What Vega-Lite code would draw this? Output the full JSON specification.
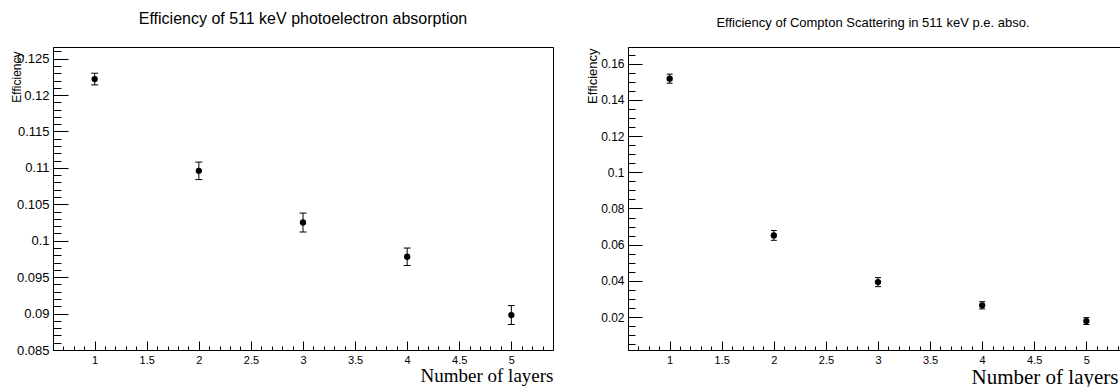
{
  "$schema": "https://vega.github.io/schema/vega-lite/v6.json",
  "padding": {"left": 9, "top": 10, "right": 0, "bottom": 0},
  "background": "white",
  "config": {
    "view": {"stroke": "black", "strokeWidth": 1},
    "font": "Liberation Sans",
    "axis": {"domainColor": "black", "tickColor": "black", "labelColor": "black", "titleColor": "black", "grid": false, "labelFont": "Liberation Sans", "titleFont": "Liberation Sans", "labelFlush": false, "labelOverlap": false, "domainWidth": 1, "tickWidth": 1}
  },
  "datasets": {
    "abs": [
      {"n": 1, "eff": 0.1222, "lo": 0.1214, "hi": 0.1230},
      {"n": 2, "eff": 0.1096, "lo": 0.1084, "hi": 0.1108},
      {"n": 3, "eff": 0.1025, "lo": 0.1012, "hi": 0.1038},
      {"n": 4, "eff": 0.0978, "lo": 0.0966, "hi": 0.0990},
      {"n": 5, "eff": 0.0898, "lo": 0.0885, "hi": 0.0911}
    ],
    "comp": [
      {"n": 1, "eff": 0.1517, "lo": 0.1492, "hi": 0.1542},
      {"n": 2, "eff": 0.0651, "lo": 0.0624, "hi": 0.0678},
      {"n": 3, "eff": 0.0393, "lo": 0.0368, "hi": 0.0418},
      {"n": 4, "eff": 0.0265, "lo": 0.0245, "hi": 0.0285},
      {"n": 5, "eff": 0.0178, "lo": 0.0159, "hi": 0.0197}
    ]
  },
  "bounds": "flush",
  "spacing": 75,
  "hconcat": [
    {
      "title": {"text": "Efficiency of 511 keV photoelectron absorption", "fontSize": 16, "font": "Liberation Sans", "fontWeight": "normal", "baseline": "alphabetic", "offset": 7, "anchor": "middle", "color": "black"},
      "width": 500,
      "height": 303,
      "data": {"name": "abs"},
      "resolve": {"axis": {"x": "independent", "y": "independent"}},
      "layer": [
        {
          "mark": {"type": "rule", "color": "black", "strokeWidth": 1},
          "encoding": {
            "x": {"field": "n", "type": "quantitative", "scale": {"domain": [0.6, 5.4], "nice": false, "zero": false},
              "axis": {"orient": "bottom", "values": [0.6,0.7,0.8,0.9,1.1,1.2,1.3,1.4,1.6,1.7,1.8,1.9,2.1,2.2,2.3,2.4,2.6,2.7,2.8,2.9,3.1,3.2,3.3,3.4,3.6,3.7,3.8,3.9,4.1,4.2,4.3,4.4,4.6,4.7,4.8,4.9,5.1,5.2,5.3], "tickSize": -4, "labels": false, "domain": false, "title": null}},
            "y": {"field": "lo", "type": "quantitative", "scale": {"domain": [0.085, 0.1266], "nice": false, "zero": false},
              "axis": {"orient": "left", "values": [0.086,0.087,0.088,0.089,0.091,0.092,0.093,0.094,0.096,0.097,0.098,0.099,0.101,0.102,0.103,0.104,0.106,0.107,0.108,0.109,0.111,0.112,0.113,0.114,0.116,0.117,0.118,0.119,0.121,0.122,0.123,0.124,0.126], "tickSize": -8, "labels": false, "domain": false, "title": null}},
            "y2": {"field": "hi"}
          }
        },
        {
          "mark": {"type": "tick", "orient": "horizontal", "size": 7, "thickness": 1, "color": "black", "opacity": 1},
          "encoding": {
            "x": {"field": "n", "type": "quantitative", "axis": null},
            "y": {"field": "lo", "type": "quantitative", "axis": null}
          }
        },
        {
          "mark": {"type": "tick", "orient": "horizontal", "size": 7, "thickness": 1, "color": "black", "opacity": 1},
          "encoding": {
            "x": {"field": "n", "type": "quantitative", "axis": null},
            "y": {"field": "hi", "type": "quantitative", "axis": null}
          }
        },
        {
          "mark": {"type": "circle", "size": 40, "color": "black", "opacity": 1},
          "encoding": {
            "x": {"field": "n", "type": "quantitative",
              "axis": {"orient": "bottom", "values": [1, 1.5, 2, 2.5, 3, 3.5, 4, 4.5, 5], "format": "~g", "tickSize": -9, "labelPadding": 13, "labelFontSize": 11,
                "title": "Number of layers", "titleFont": "Liberation Serif", "titleFontSize": 19, "titleFontWeight": "normal", "titleAlign": "right", "titleX": 500, "titleY": 31, "titleBaseline": "alphabetic"}},
            "y": {"field": "eff", "type": "quantitative",
              "axis": {"orient": "left", "values": [0.085, 0.09, 0.095, 0.1, 0.105, 0.11, 0.115, 0.12, 0.125], "format": ".3~f", "tickSize": -15, "labelPadding": 19, "labelFontSize": 13,
                "title": "Efficiency", "titleFontSize": 12, "titleFontWeight": "normal", "titleAngle": -90, "titleAlign": "right", "titleBaseline": "middle", "titleX": -37, "titleY": 4}}
          }
        }
      ]
    },
    {
      "title": {"text": "Efficiency of Compton Scattering in 511 keV p.e. abso.", "fontSize": 13, "font": "Liberation Sans", "fontWeight": "normal", "baseline": "alphabetic", "offset": 7, "anchor": "middle", "color": "black", "dx": -5},
      "width": 500,
      "height": 303,
      "data": {"name": "comp"},
      "resolve": {"axis": {"x": "independent", "y": "independent"}},
      "layer": [
        {
          "mark": {"type": "rule", "color": "black", "strokeWidth": 1},
          "encoding": {
            "x": {"field": "n", "type": "quantitative", "scale": {"domain": [0.6, 5.4], "nice": false, "zero": false},
              "axis": {"orient": "bottom", "values": [0.6,0.7,0.8,0.9,1.1,1.2,1.3,1.4,1.6,1.7,1.8,1.9,2.1,2.2,2.3,2.4,2.6,2.7,2.8,2.9,3.1,3.2,3.3,3.4,3.6,3.7,3.8,3.9,4.1,4.2,4.3,4.4,4.6,4.7,4.8,4.9,5.1,5.2,5.3], "tickSize": -4, "labels": false, "domain": false, "title": null}},
            "y": {"field": "lo", "type": "quantitative", "scale": {"domain": [0.0018, 0.1692], "nice": false, "zero": false},
              "axis": {"orient": "left", "values": [0.005,0.01,0.015,0.025,0.03,0.035,0.045,0.05,0.055,0.065,0.07,0.075,0.085,0.09,0.095,0.105,0.11,0.115,0.125,0.13,0.135,0.145,0.15,0.155,0.165], "tickSize": -7, "labels": false, "domain": false, "title": null}},
            "y2": {"field": "hi"}
          }
        },
        {
          "mark": {"type": "tick", "orient": "horizontal", "size": 6, "thickness": 1, "color": "black", "opacity": 1},
          "encoding": {
            "x": {"field": "n", "type": "quantitative", "axis": null},
            "y": {"field": "lo", "type": "quantitative", "axis": null}
          }
        },
        {
          "mark": {"type": "tick", "orient": "horizontal", "size": 6, "thickness": 1, "color": "black", "opacity": 1},
          "encoding": {
            "x": {"field": "n", "type": "quantitative", "axis": null},
            "y": {"field": "hi", "type": "quantitative", "axis": null}
          }
        },
        {
          "mark": {"type": "circle", "size": 40, "color": "black", "opacity": 1},
          "encoding": {
            "x": {"field": "n", "type": "quantitative",
              "axis": {"orient": "bottom", "values": [1, 1.5, 2, 2.5, 3, 3.5, 4, 4.5, 5], "format": "~g", "tickSize": -9, "labelPadding": 13, "labelFontSize": 11,
                "title": "Number of layers", "titleFont": "Liberation Serif", "titleFontSize": 21, "titleFontWeight": "normal", "titleAlign": "right", "titleX": 490, "titleY": 33, "titleBaseline": "alphabetic"}},
            "y": {"field": "eff", "type": "quantitative",
              "axis": {"orient": "left", "values": [0.02, 0.04, 0.06, 0.08, 0.1, 0.12, 0.14, 0.16], "format": ".2~f", "tickSize": -14, "labelPadding": 18, "labelFontSize": 12,
                "title": "Efficiency", "titleFontSize": 13, "titleFontWeight": "normal", "titleAngle": -90, "titleAlign": "right", "titleBaseline": "middle", "titleX": -36, "titleY": 1}}
          }
        }
      ]
    }
  ]
}
